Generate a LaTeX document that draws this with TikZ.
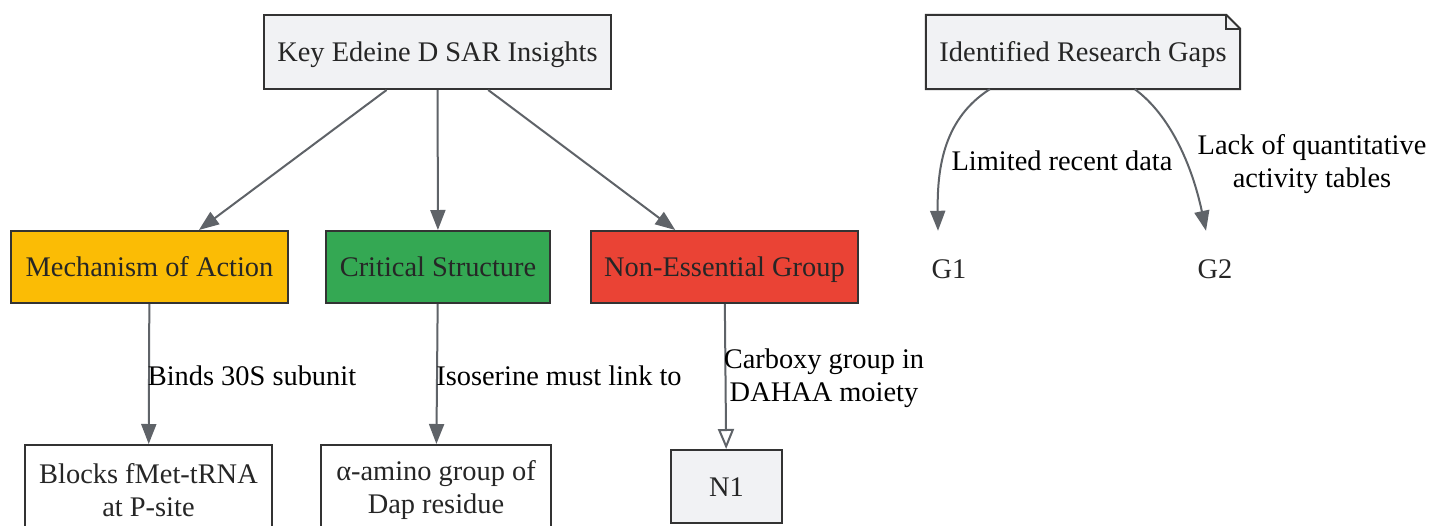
\documentclass[tikz,border=0pt]{standalone}
\usepackage{fontspec}
\setmainfont{Liberation Serif}
\usetikzlibrary{arrows.meta,calc,backgrounds}
\definecolor{boxgray}{HTML}{F1F2F4}
\definecolor{gyellow}{HTML}{FBBC05}
\definecolor{ggreen}{HTML}{34A853}
\definecolor{gred}{HTML}{EA4335}
\definecolor{edgegray}{HTML}{5F6368}
\definecolor{borderc}{HTML}{333333}
\definecolor{txt}{HTML}{262626}
\tikzset{
  box/.style={draw=borderc, line width=2pt, inner sep=0pt, align=center, text=txt},
  plain/.style={inner sep=0pt, align=center, text=txt},
  oneline/.style={text height=25.3pt, text depth=6.1pt},
  edge/.style={draw=edgegray, line width=2pt, -{Triangle[length=20pt,width=15pt]}},
  openedge/.style={draw=edgegray, line width=2pt, -{Triangle[open,length=20pt,width=16pt,line width=2pt]}},
  lbl/.style={inner sep=0pt, align=center, text=black},
}
\begin{document}
\begin{tikzpicture}[x=1pt,y=-1pt, font=\fontsize{28.4}{33.5}\selectfont]
\useasboundingbox (0,0) rectangle (1429,525);
\clip (0,0) rectangle (1429,525);

% main nodes
\node[box, oneline, fill=boxgray, minimum width=347pt, minimum height=74pt] (key) at (437.5,52) {Key Edeine D SAR Insights};
\node[box, oneline, fill=gyellow, minimum width=277pt, minimum height=72pt] (mech) at (149.5,267) {Mechanism of Action};
\node[box, oneline, fill=ggreen, minimum width=224pt, minimum height=72pt] (crit) at (438,267) {Critical Structure};
\node[box, oneline, fill=gred, minimum width=267pt, minimum height=72pt] (non) at (724.5,267) {Non-Essential Group};

\node[box, fill=white, minimum width=247pt, minimum height=90pt] (blocks) at (148.5,490) {Blocks fMet-tRNA\\at P-site};
\node[box, fill=white, minimum width=230pt, minimum height=90pt] (alpha) at (436,490) {α-amino group of\\Dap residue};
\node[box, oneline, fill=boxgray, minimum width=111pt, minimum height=73pt] (n1) at (726.5,486.5) {N1};

% note node
\node[plain, oneline, minimum width=314pt, minimum height=74pt] (gaps) at (1083,52) {Identified Research Gaps};
\begin{scope}[on background layer]
\fill[white] (0,0) rectangle (1429,525);
\filldraw[fill=boxgray, draw=borderc, line width=2pt, line join=miter]
  (gaps.north west) -- ($(gaps.north east)+(-14,0)$) -- ($(gaps.north east)+(0,14)$)
  -- (gaps.south east) -- (gaps.south west) -- cycle;
\end{scope}
\draw[draw=borderc, line width=2pt] ($(gaps.north east)+(-14,0)$) -- ($(gaps.north east)+(-14,14)$) -- ($(gaps.north east)+(0,14)$);

\node[plain, oneline, minimum height=72pt] (g1) at (949,269) {G1};
\node[plain, oneline, minimum height=72pt] (g2) at (1215,269) {G2};

% edges
\draw[edge] (key) -- (mech);
\draw[edge] (key) -- (crit);
\draw[edge] (key) -- (non);
\draw[edge] (mech) -- (blocks);
\draw[edge] (crit) -- (alpha);
\draw[openedge] (non) -- (n1);

\coordinate (g1s) at ($(gaps.south west)+(64,0)$);
\coordinate (g1e) at ($(g1.north)+(-11,-2)$);
\coordinate (g2s) at ($(gaps.south west)+(209,0)$);
\coordinate (g2e) at ($(g2.north)+(-9,-2)$);
\coordinate (c1) at (945,118);
\coordinate (c2) at (937,165);
\coordinate (c3) at (1170,115);
\coordinate (c4) at (1192,165);
\draw[edge] (g1s) .. controls (c1) and (c2) .. (g1e);
\draw[edge] (g2s) .. controls (c3) and (c4) .. (g2e);

% labels
\node[lbl, oneline] (l1) at (252,376) {Binds 30S subunit};
\node[lbl, oneline] (l2) at (559,376) {Isoserine must link to};
\node[lbl] (l3) at (824,378) {Carboxy group in\\DAHAA moiety};
\node[lbl, oneline] (l4) at (1062,161) {Limited recent data};
\node[lbl] (l5) at (1312,164) {Lack of quantitative\\activity tables};
\end{tikzpicture}
\end{document}
